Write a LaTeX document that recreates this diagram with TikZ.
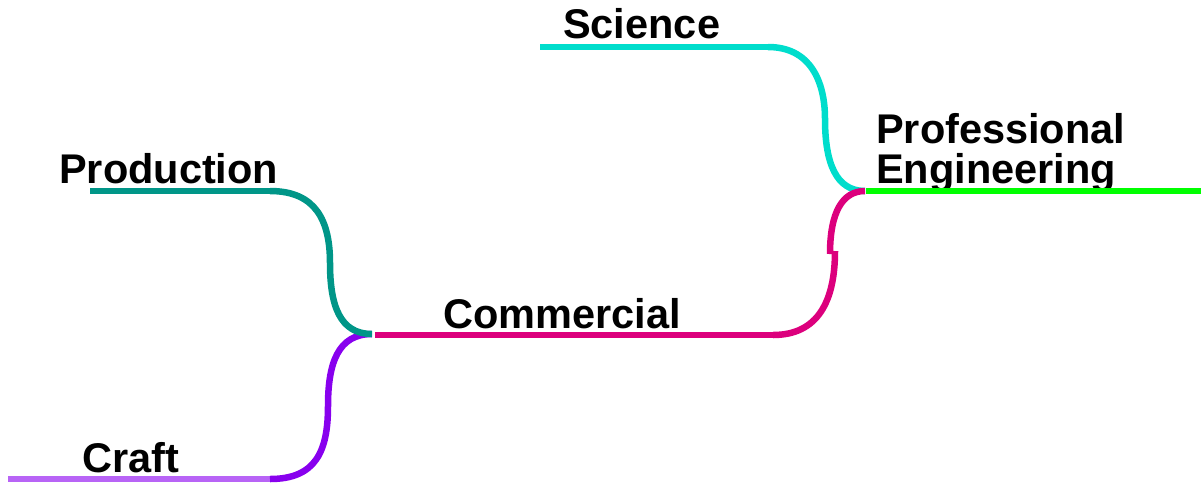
\documentclass[tikz,border=0pt]{standalone}
\usepackage{fontspec}
\setmainfont{Liberation Sans}
\definecolor{craftlight}{RGB}{184,100,246}
\definecolor{craftdark}{RGB}{136,0,238}
\definecolor{prodteal}{RGB}{0,150,136}
\definecolor{commag}{RGB}{220,0,125}
\definecolor{scicyan}{RGB}{0,221,204}
\definecolor{profgreen}{RGB}{0,255,0}
\begin{document}
\begin{tikzpicture}[x=1pt,y=-1pt,
  branch/.style={line width=6.5pt},
  label/.style={anchor=base west,inner sep=0pt,font=\bfseries\fontsize{41.5}{40}\selectfont}]
\useasboundingbox (0,0) rectangle (1201,483);
% topic labels
\node[label] (science) at (563,38) {Science};
\node[label] (production) at (59,183) {Production};
\node[label] (commercial) at (443,328) {Commercial};
\node[label] (craft) at (82,472) {Craft};
\node[label,align=left] (professional) at (876,183) {Professional\\Engineering};
% branch end points
\coordinate (craftA) at (8,479);
\coordinate (craftB) at (270,479);
\coordinate (prodA) at (90,191);
\coordinate (prodB) at (270,191);
\coordinate (hubL) at (372,334);
\coordinate (comA) at (375,335);
\coordinate (comB) at (773,335);
\coordinate (comMidLo) at (835,251);
\coordinate (comMidUp) at (830,254);
\coordinate (sciA) at (540,47);
\coordinate (sciB) at (768,47);
\coordinate (hubR) at (865,191);
\coordinate (profA) at (866,191);
\coordinate (profB) at (1201,191);
% horizontal underlines
\draw[branch,craftlight] (craftA) -- (craftB);
\draw[branch,prodteal] (prodA) -- (prodB);
\draw[branch,commag] (comA) -- (comB);
\draw[branch,scicyan] (sciA) -- (sciB);
\draw[branch,profgreen] (profA) -- (profB);
% connecting curves
\draw[branch,craftdark] (craftB) .. controls (316,479) and (328,451) .. (328,406)
  .. controls (328,363) and (338,334) .. (hubL);
\draw[branch,prodteal] (prodB) .. controls (316,191) and (330,221) .. (330,263)
  .. controls (330,306) and (340,334) .. (hubL);
\draw[branch,scicyan] (sciB) .. controls (810,47) and (825,81) .. (825,119)
  .. controls (825,163) and (836,191) .. (hubR);
\draw[branch,commag] (comB) .. controls (818,335) and (835,301) .. (comMidLo);
\draw[branch,commag] (comMidUp) .. controls (830,213) and (842,191) .. (hubR);
\end{tikzpicture}
\end{document}
